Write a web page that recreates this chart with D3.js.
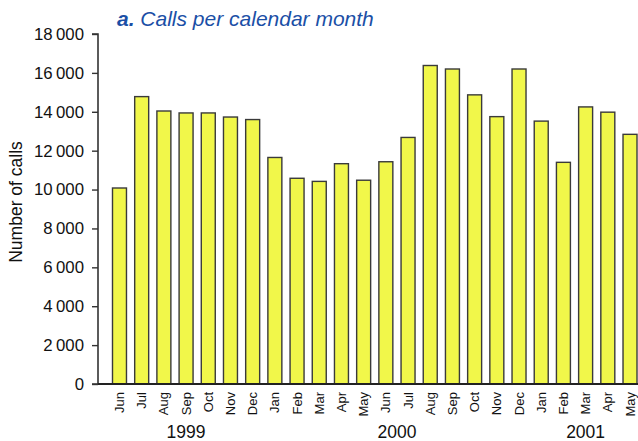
<!DOCTYPE html>
<meta charset="utf-8">
<script src="https://d3js.org/d3.v7.min.js"></script>
<style>
  body { margin: 0; background: #fff; }
  text { font-family: "Liberation Sans", Arial, sans-serif; }
</style>
<svg id="chart" width="638" height="441"></svg>
<script>
// data
var months = ["Jun","Jul","Aug","Sep","Oct","Nov","Dec",
              "Jan","Feb","Mar","Apr","May","Jun","Jul","Aug","Sep","Oct","Nov","Dec",
              "Jan","Feb","Mar","Apr","May"];
var calls = [10080, 14780, 14040, 13940, 13940, 13730, 13600,
             11650, 10580, 10420, 11330, 10480, 11430, 12680, 16380, 16200, 14870, 13750, 16200,
             13520, 11400, 14250, 13980, 12840];
var years = [{label: "1999", from: 0, to: 6}, {label: "2000", from: 7, to: 18}, {label: "2001", from: 19, to: 23}];
var yTicks = [0, 2000, 4000, 6000, 8000, 10000, 12000, 14000, 16000, 18000];

var svg = d3.select("#chart");
var plotLeft = 98, plotBottom = 384, plotTop = 34;

var x = d3.scaleBand()
    .domain(d3.range(months.length))
    .range([108.5, 641])
    .paddingInner(0.37)
    .paddingOuter(0.18);

var y = d3.scaleLinear().domain([0, 18000]).range([plotBottom, plotTop]);

var fmt = function(v) {
  return v >= 1000 ? d3.format("d")(Math.floor(v / 1000)) + "\u2009" + d3.format("03d")(v % 1000) : "" + v;
};

// bars
svg.append("g")
  .selectAll("rect")
  .data(calls)
  .enter()
  .append("rect")
    .attr("x", function(d, i){ return x(i); })
    .attr("y", function(d){ return y(d); })
    .attr("width", x.bandwidth())
    .attr("height", function(d){ return plotBottom - y(d); })
    .attr("fill", "#f1f74a")
    .attr("stroke", "#3a3a3a")
    .attr("stroke-width", 1.4);

// y axis
var yAxis = svg.append("g")
    .attr("transform", "translate(" + plotLeft + ",0)")
    .call(d3.axisLeft(y).tickValues(yTicks).tickFormat(fmt).tickSize(6).tickPadding(8));
yAxis.select(".domain").attr("stroke", "#333").attr("stroke-width", 1.6).attr("d", "M-6," + plotTop + "H0V" + plotBottom + "H-6");
yAxis.selectAll(".tick line").attr("stroke", "#333").attr("stroke-width", 1.4);
yAxis.selectAll(".tick text").attr("font-size", 16.8).attr("fill", "#111")
    .style("font-family", "'Liberation Sans', Arial, sans-serif");

// x baseline
svg.append("line")
    .attr("x1", plotLeft).attr("x2", 638)
    .attr("y1", plotBottom).attr("y2", plotBottom)
    .attr("stroke", "#222").attr("stroke-width", 2.2);

// month labels
svg.append("g")
  .selectAll("text")
  .data(months)
  .enter()
  .append("text")
    .attr("transform", function(d, i){ return "translate(" + (x(i) + x.bandwidth() / 2 + 4.5) + ",392) rotate(-90)"; })
    .attr("text-anchor", "end")
    .attr("font-size", 13)
    .attr("fill", "#111")
    .text(function(d){ return d; });

// year labels
svg.append("g")
  .selectAll("text")
  .data(years)
  .enter()
  .append("text")
    .attr("x", function(d){ return (x(d.from) + x(d.to) + x.bandwidth()) / 2; })
    .attr("y", 438)
    .attr("text-anchor", "middle")
    .attr("font-size", 17.5)
    .attr("fill", "#111")
    .text(function(d){ return d.label; });

// y title
svg.append("text")
    .attr("transform", "translate(22,202) rotate(-90)")
    .attr("text-anchor", "middle")
    .attr("font-size", 17.5)
    .attr("fill", "#111")
    .text("Number of calls");

// chart title
var title = svg.append("text")
    .attr("x", 117).attr("y", 26)
    .attr("font-size", 21)
    .attr("font-style", "italic")
    .attr("fill", "#1b4fa6");
title.append("tspan").attr("font-weight", "bold").text("a.");
title.append("tspan").text(" Calls per calendar month");
</script>
